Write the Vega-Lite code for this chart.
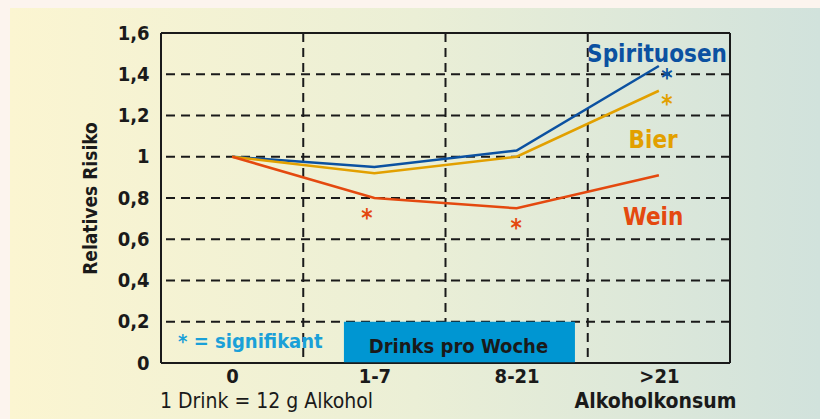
{
  "$schema": "https://vega.github.io/schema/vega-lite/v6.json",
  "autosize": "none",
  "width": 569,
  "height": 330,
  "padding": {"left": 161, "top": 33, "right": 90, "bottom": 56},
  "background": "#fcf4ee",
  "config": {
    "font": "Liberation Sans Narrow, DejaVu Sans Condensed, sans-serif",
    "view": {"stroke": null}
  },
  "datasets": {
    "risk": [
      {"konsum": 0, "getraenk": "Spirituosen", "risiko": 1.0},
      {"konsum": 1, "getraenk": "Spirituosen", "risiko": 0.95},
      {"konsum": 2, "getraenk": "Spirituosen", "risiko": 1.03},
      {"konsum": 3, "getraenk": "Spirituosen", "risiko": 1.44},
      {"konsum": 0, "getraenk": "Bier", "risiko": 1.0},
      {"konsum": 1, "getraenk": "Bier", "risiko": 0.92},
      {"konsum": 2, "getraenk": "Bier", "risiko": 1.0},
      {"konsum": 3, "getraenk": "Bier", "risiko": 1.32},
      {"konsum": 0, "getraenk": "Wein", "risiko": 1.0},
      {"konsum": 1, "getraenk": "Wein", "risiko": 0.8},
      {"konsum": 2, "getraenk": "Wein", "risiko": 0.75},
      {"konsum": 3, "getraenk": "Wein", "risiko": 0.91}
    ],
    "one": [{}]
  },
  "encoding": {
    "x": {"type": "quantitative", "scale": {"domain": [-0.5, 3.5], "nice": false, "zero": false}},
    "y": {"type": "quantitative", "scale": {"domain": [0, 1.6], "nice": false}}
  },
  "layer": [
    {
      "data": {"name": "one"},
      "mark": {"type": "rect", "fill": {"gradient": "linear", "x1": 0, "x2": 1, "y1": 0, "y2": 0, "stops": [{"offset": 0, "color": "#fbf5d1"}, {"offset": 0.5, "color": "#ebefd6"}, {"offset": 1, "color": "#d1e2dc"}]}},
      "encoding": {"x": {"datum": -1.5615}, "x2": {"datum": 4.133}, "y": {"datum": -0.2715}, "y2": {"datum": 1.721}}
    },
    {"data": {"name": "one"}, "mark": {"type": "rule", "stroke": "#1a1a1a", "strokeWidth": 2, "strokeDash": [9, 6]}, "encoding": {"y": {"datum": 0.2}}},
    {"data": {"name": "one"}, "mark": {"type": "rule", "stroke": "#1a1a1a", "strokeWidth": 2, "strokeDash": [9, 6]}, "encoding": {"y": {"datum": 0.4}}},
    {"data": {"name": "one"}, "mark": {"type": "rule", "stroke": "#1a1a1a", "strokeWidth": 2, "strokeDash": [9, 6]}, "encoding": {"y": {"datum": 0.6}}},
    {"data": {"name": "one"}, "mark": {"type": "rule", "stroke": "#1a1a1a", "strokeWidth": 2, "strokeDash": [9, 6]}, "encoding": {"y": {"datum": 0.8}}},
    {"data": {"name": "one"}, "mark": {"type": "rule", "stroke": "#1a1a1a", "strokeWidth": 2, "strokeDash": [9, 6]}, "encoding": {"y": {"datum": 1.0}}},
    {"data": {"name": "one"}, "mark": {"type": "rule", "stroke": "#1a1a1a", "strokeWidth": 2, "strokeDash": [9, 6]}, "encoding": {"y": {"datum": 1.2}}},
    {"data": {"name": "one"}, "mark": {"type": "rule", "stroke": "#1a1a1a", "strokeWidth": 2, "strokeDash": [9, 6]}, "encoding": {"y": {"datum": 1.4}}},
    {"data": {"name": "one"}, "mark": {"type": "rule", "stroke": "#1a1a1a", "strokeWidth": 2, "strokeDash": [9, 6]}, "encoding": {"x": {"datum": 0.5}}},
    {"data": {"name": "one"}, "mark": {"type": "rule", "stroke": "#1a1a1a", "strokeWidth": 2, "strokeDash": [9, 6]}, "encoding": {"x": {"datum": 1.5}}},
    {"data": {"name": "one"}, "mark": {"type": "rule", "stroke": "#1a1a1a", "strokeWidth": 2, "strokeDash": [9, 6]}, "encoding": {"x": {"datum": 2.5}}},
    {"data": {"name": "one"}, "mark": {"type": "rule", "stroke": "#1a1a1a", "strokeWidth": 2}, "encoding": {"x": {"datum": -0.5}}},
    {"data": {"name": "one"}, "mark": {"type": "rule", "stroke": "#1a1a1a", "strokeWidth": 2}, "encoding": {"x": {"datum": 3.5}}},
    {"data": {"name": "one"}, "mark": {"type": "rule", "stroke": "#1a1a1a", "strokeWidth": 2}, "encoding": {"y": {"datum": 0}}},
    {"data": {"name": "one"}, "mark": {"type": "rule", "stroke": "#1a1a1a", "strokeWidth": 2}, "encoding": {"y": {"datum": 1.6}}},
    {
      "data": {"name": "one"},
      "mark": {"type": "rect", "fill": "#0096d2"},
      "encoding": {"x": {"datum": 0.786}, "x2": {"datum": 2.41}, "y": {"datum": 0.004}, "y2": {"datum": 0.2}}
    },
    {
      "data": {"name": "one"},
      "mark": {"type": "text", "text": "Drinks pro Woche", "fontSize": 20, "fontWeight": "bold", "fill": "#1a1a1a", "align": "center", "baseline": "alphabetic"},
      "encoding": {"x": {"datum": 1.591}, "y": {"datum": 0.0485}}
    },
    {
      "data": {"name": "one"},
      "mark": {"type": "text", "text": "* = signifikant", "fontSize": 20, "fontWeight": "bold", "fill": "#1aa0d8", "align": "left", "baseline": "alphabetic"},
      "encoding": {"x": {"datum": -0.38}, "y": {"datum": 0.0727}}
    },
    {
      "data": {"name": "risk"},
      "mark": {"type": "line", "strokeWidth": 2.5, "clip": false},
      "encoding": {
        "x": {"field": "konsum", "type": "quantitative",
          "axis": {"zindex": 1, "values": [0, 1, 2, 3], "labelExpr": "datum.value == 0 ? '0' : datum.value == 1 ? '1-7' : datum.value == 2 ? '8-21' : '>21'", "title": null, "grid": false, "ticks": false, "domain": false, "labelFontSize": 20, "labelFontWeight": "bold", "labelColor": "#1a1a1a", "labelPadding": 3, "labelFlush": false}},
        "y": {"field": "risiko", "type": "quantitative",
          "axis": {"zindex": 1, "values": [0, 0.2, 0.4, 0.6, 0.8, 1, 1.2, 1.4, 1.6], "labelExpr": "replace(format(datum.value, '.1~f'), '.', ',')", "title": "Relatives Risiko", "grid": false, "ticks": false, "domain": false, "labelFontSize": 20, "labelFontWeight": "bold", "labelColor": "#1a1a1a", "labelPadding": 12, "labelFlush": false, "titleFontSize": 19, "titleFontWeight": "bold", "titleColor": "#1a1a1a", "titlePadding": 17}},
        "color": {"field": "getraenk", "type": "nominal", "legend": null, "scale": {"domain": ["Spirituosen", "Bier", "Wein"], "range": ["#0b51a1", "#e2a000", "#e4490f"]}}
      }
    },
    {
      "data": {"name": "one"},
      "mark": {"type": "text", "text": "Spirituosen", "fontSize": 24, "fontWeight": "bold", "fill": "#0b51a1", "align": "center", "baseline": "alphabetic"},
      "encoding": {"x": {"datum": 2.987}, "y": {"datum": 1.459}}
    },
    {
      "data": {"name": "one"},
      "mark": {"type": "text", "text": "Bier", "fontSize": 24, "fontWeight": "bold", "fill": "#e2a000", "align": "center", "baseline": "alphabetic"},
      "encoding": {"x": {"datum": 2.96}, "y": {"datum": 1.042}}
    },
    {
      "data": {"name": "one"},
      "mark": {"type": "text", "text": "Wein", "fontSize": 24, "fontWeight": "bold", "fill": "#e4490f", "align": "center", "baseline": "alphabetic"},
      "encoding": {"x": {"datum": 2.96}, "y": {"datum": 0.669}}
    },
    {
      "data": {"name": "one"},
      "mark": {"type": "text", "text": "*", "fontSize": 24, "fontWeight": "bold", "fill": "#0b51a1", "align": "center", "baseline": "alphabetic"},
      "encoding": {"x": {"datum": 3.057}, "y": {"datum": 1.345}}
    },
    {
      "data": {"name": "one"},
      "mark": {"type": "text", "text": "*", "fontSize": 24, "fontWeight": "bold", "fill": "#e2a000", "align": "center", "baseline": "alphabetic"},
      "encoding": {"x": {"datum": 3.057}, "y": {"datum": 1.215}}
    },
    {
      "data": {"name": "one"},
      "mark": {"type": "text", "text": "*", "fontSize": 24, "fontWeight": "bold", "fill": "#e4490f", "align": "center", "baseline": "alphabetic"},
      "encoding": {"x": {"datum": 0.948}, "y": {"datum": 0.665}}
    },
    {
      "data": {"name": "one"},
      "mark": {"type": "text", "text": "*", "fontSize": 24, "fontWeight": "bold", "fill": "#e4490f", "align": "center", "baseline": "alphabetic"},
      "encoding": {"x": {"datum": 1.996}, "y": {"datum": 0.615}}
    },
    {
      "data": {"name": "one"},
      "mark": {"type": "text", "text": "1 Drink = 12 g Alkohol", "fontSize": 21, "fill": "#1a1a1a", "align": "left", "baseline": "alphabetic"},
      "encoding": {"x": {"datum": -0.507}, "y": {"datum": -0.218}}
    },
    {
      "data": {"name": "one"},
      "mark": {"type": "text", "text": "Alkoholkonsum", "fontSize": 21, "fontWeight": "bold", "fill": "#1a1a1a", "align": "center", "baseline": "alphabetic"},
      "encoding": {"x": {"datum": 2.976}, "y": {"datum": -0.218}}
    }
  ]
}
